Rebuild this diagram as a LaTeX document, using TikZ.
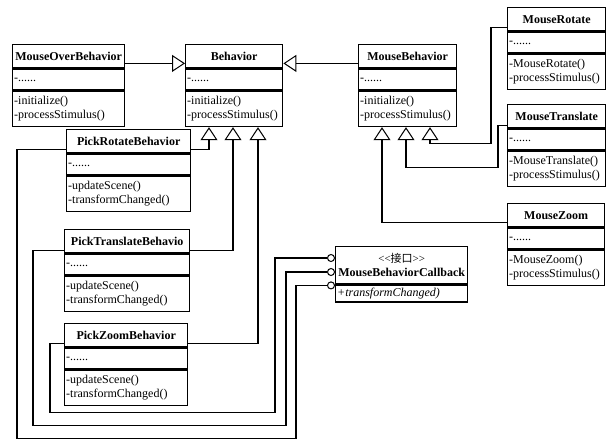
\documentclass[tikz,border=0pt]{standalone}
\usepackage{fontspec}
\setmainfont{Liberation Serif}
\newfontfamily\cjk{Noto Sans CJK SC}
\usetikzlibrary{arrows.meta}

\begin{document}
\begin{tikzpicture}[x=1pt,y=-1pt,
    every node/.style={font=\fontsize{12}{14}\selectfont},
    ctitle/.style={draw,line width=1.4pt,anchor=north west,minimum height=23pt,
        inner sep=0pt,font=\fontsize{12}{14}\selectfont\bfseries},
    cbody/.style={draw,line width=1.4pt,anchor=north,inner xsep=1.5pt,inner ysep=1pt,align=left},
    inh/.style={line width=1.3pt,-{Triangle[fill=white,length=13pt,width=17pt,line width=1pt]}},
    lnk/.style={line width=1.3pt},
    lolli/.style={draw,circle,fill=white,line width=1pt,minimum size=7pt,inner sep=0pt}]

    \useasboundingbox (0,0) rectangle (616,439);

    \def\umlclass#1#2#3#4#5{%
        \pgfmathsetmacro\tw{#3-3}
        \node[ctitle,minimum width=#3pt] (#1) at (#2) {#4};
        \node[cbody,minimum height=21pt,text width=\tw pt] (#1-a) at (#1.south) {-......};
        \node[cbody,minimum height=35pt,text width=\tw pt] (#1-m) at (#1-a.south) {#5};
    }

    \umlclass{mob}{12,44}{112}{MouseOverBehavior}{-initialize()\\-processStimulus()}
    \umlclass{beh}{185,44}{97}{Behavior}{-initialize()\\-processStimulus()}
    \umlclass{mbeh}{358,44}{98}{MouseBehavior}{-initialize()\\-processStimulus()}
    \umlclass{mrot}{507,7}{98}{MouseRotate}{-MouseRotate()\\-processStimulus()}
    \umlclass{mtra}{507,104}{98}{MouseTranslate}{-MouseTranslate()\\-processStimulus()}
    \umlclass{mzoom}{507,203}{97}{MouseZoom}{-MouseZoom()\\-processStimulus()}
    \umlclass{prot}{66,129}{124}{PickRotateBehavior}{-updateScene()\\-transformChanged()}
    \umlclass{ptra}{64,229}{125}{PickTranslateBehavio}{-updateScene()\\-transformChanged()}
    \umlclass{pzoom}{64,323}{123}{PickZoomBehavior}{-updateScene()\\-transformChanged()}

    \node[ctitle,minimum width=132pt,minimum height=37pt,align=center] (cb) at (335,246)
        {{\mdseries\fontsize{11}{14}\selectfont\textless{}\textless{}{\cjk 接口}\textgreater{}\textgreater{}}\\MouseBehaviorCallback};
    \node[cbody,minimum height=17pt,text width=129pt,font=\fontsize{12}{14}\selectfont\itshape]
        (cb-m) at (cb.south) {+transformChanged)};

    \node[lolli] (l1) at ([xshift=-4pt,yshift=-12pt]cb.north west) {};
    \node[lolli] (l2) at ([xshift=-4pt,yshift=-26pt]cb.north west) {};
    \node[lolli] (l3) at ([xshift=-4pt,yshift=-1pt]cb.south west) {};

    \draw[inh] ([yshift=5pt]mob.south east) -- ([yshift=5pt]beh.south west);
    \draw[inh] ([yshift=5pt]mbeh.south west) -- ([yshift=5pt]beh.south east);

    \draw[inh] ([yshift=4pt]prot.south east) -| ([xshift=24pt]beh-m.south west);
    \draw[inh] ([yshift=3pt]ptra.south east) -| ([xshift=48pt]beh-m.south west);
    \draw[inh] ([yshift=4pt]pzoom.south east) -| ([xshift=73pt]beh-m.south west);

    \draw[inh] ([yshift=5pt]mzoom.south west) -| ([xshift=24pt]mbeh-m.south west);
    \draw[inh] ([yshift=3pt]mtra.south west) -- ++(-9,0)
        |- ([xshift=48pt,yshift=-40pt]mbeh-m.south west) -- ([xshift=48pt]mbeh-m.south west);
    \draw[inh] ([yshift=4pt]mrot.south west) -- ++(-16,0)
        |- ([xshift=72pt,yshift=-16pt]mbeh-m.south west) -- ([xshift=72pt]mbeh-m.south west);

    \draw[lnk] ([yshift=4pt]prot.south west) -- ++(-49,0) -- ++(0,289)
        -| ([xshift=-31pt]l3.west) -- (l3.west);
    \draw[lnk] ([yshift=3pt]ptra.south west) -- ++(-31,0) -- ++(0,175)
        -| ([xshift=-41pt]l2.west) -- (l2.west);
    \draw[lnk] ([yshift=4pt]pzoom.south west) -- ++(-14,0) -- ++(0,69)
        -| ([xshift=-52pt]l1.west) -- (l1.west);

\end{tikzpicture}
\end{document}
